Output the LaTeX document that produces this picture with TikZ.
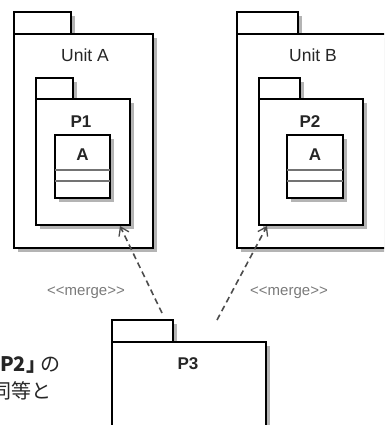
\documentclass[tikz,border=0pt]{standalone}
\usepackage{fontspec}
\setmainfont{Liberation Sans}
\newfontfamily\jpfont{Noto Sans CJK JP}
\usetikzlibrary{arrows.meta}
\definecolor{stereo}{HTML}{7A7A7A}
\definecolor{shadowgray}{HTML}{B4B4B4}
\begin{document}
\begin{tikzpicture}[x=1pt,y=-1pt,
  outline/.style={draw=black, line width=2.6pt, fill=white, inner sep=0pt,
    outer sep=0pt, anchor=north west,
    preaction={draw=none, fill=shadowgray, transform canvas={xshift=4pt,yshift=-4pt}}},
  pkgname/.style={font=\fontsize{17.5}{20}\selectfont, text=black!85, inner sep=0pt},
  boldname/.style={pkgname, font=\fontsize{17}{20}\selectfont\bfseries},
  compart/.style={draw=black!55, line width=1.4pt},
  stereolbl/.style={font=\fontsize{15}{18}\selectfont, text=stereo, inner sep=0pt},
  merge/.style={draw=black!70, line width=1.6pt, dash pattern=on 6pt off 4pt,
    -{Straight Barb[length=8pt,width=11pt,line width=1.3pt]}},
  jptext/.style={font=\jpfont\fontsize{20}{24}\selectfont, text=black!85, inner sep=0pt}]
\useasboundingbox (0,0) rectangle (384,425);
\begin{scope}
\clip (0,0) rectangle (384,425);

% Unit A with package P1 and class A
\node[outline, minimum width=57pt, minimum height=22pt] (unitAtab) at (14,12) {};
\node[outline, minimum width=139pt, minimum height=214pt] (unitA) at (14,34) {};
\node[pkgname] (unitAname) at (85,55) {Unit A};
\node[outline, minimum width=37pt, minimum height=21pt] (p1tab) at (36,78) {};
\node[outline, minimum width=94pt, minimum height=126pt] (p1) at (36,99) {};
\node[boldname] (p1name) at (81,122) {P1};
\node[outline, minimum width=55pt, minimum height=63pt] (clsA1) at (55,135) {};
\node[boldname] (clsA1name) at (82.5,155) {A};
\draw[compart] ([yshift=-35pt]clsA1.north west) -- ([yshift=-35pt]clsA1.north east);
\draw[compart] ([yshift=-46pt]clsA1.north west) -- ([yshift=-46pt]clsA1.north east);

% Unit B with package P2 and class A
\node[outline, minimum width=61pt, minimum height=22pt] (unitBtab) at (237,12) {};
\node[outline, minimum width=170pt, minimum height=214pt] (unitB) at (237,34) {};
\node[pkgname] (unitBname) at (313,55) {Unit B};
\node[outline, minimum width=41pt, minimum height=21pt] (p2tab) at (259,78) {};
\node[outline, minimum width=104pt, minimum height=126pt] (p2) at (259,99) {};
\node[boldname] (p2name) at (310,122) {P2};
\node[outline, minimum width=56pt, minimum height=63pt] (clsA2) at (287,135) {};
\node[boldname] (clsA2name) at (315,155) {A};
\draw[compart] ([yshift=-35pt]clsA2.north west) -- ([yshift=-35pt]clsA2.north east);
\draw[compart] ([yshift=-46pt]clsA2.north west) -- ([yshift=-46pt]clsA2.north east);

% Package P3
\node[outline, minimum width=61pt, minimum height=22pt] (p3tab) at (112,320) {};
\node[outline, minimum width=154pt, minimum height=100pt] (p3) at (112,342) {};
\node[boldname] (p3name) at (188,364) {P3};

% merge dependencies from P3
\coordinate (mergeAstart) at ([xshift=-11pt,yshift=7pt]p3tab.north east);
\coordinate (mergeAend) at ([xshift=-10pt,yshift=-1pt]p1.south east);
\coordinate (mergeBstart) at ([xshift=105pt,yshift=22pt]p3.north west);
\coordinate (mergeBend) at ([xshift=8pt,yshift=-1pt]p2.south west);
\draw[merge] (mergeAstart) -- (mergeAend);
\draw[merge] (mergeBstart) -- (mergeBend);
\node[stereolbl] (mergeAlbl) at (86,293) {{<}{<}merge{>}{>}};
\node[stereolbl] (mergeBlbl) at (289,293) {{<}{<}merge{>}{>}};

% note text
\node[jptext, anchor=west] (note1) at (0,365) {{\bfseries P2」}\kern-6pt の};
\node[jptext, anchor=east] (note2) at (52,391) {同等と};
\end{scope}
\end{tikzpicture}
\end{document}
